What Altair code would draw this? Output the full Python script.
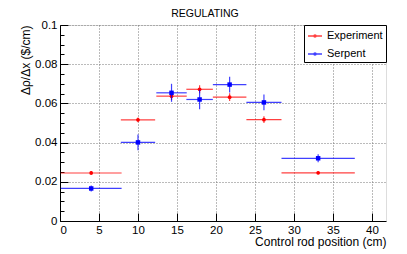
import altair as alt
import pandas as pd

# ---- data ----
series_names = ["Experiment", "Serpent"]
series_colors = ["#ff0000", "#0000ff"]

x_center = [4.0, 10.0, 14.3, 17.9, 21.75, 26.15, 33.1]
x_err = [3.9, 2.2, 1.95, 1.7, 2.15, 2.25, 4.7]

exp_y = [0.0245, 0.0516, 0.0637, 0.0672, 0.0632, 0.0517, 0.0246]
exp_err = [0.0010, 0.0012, 0.0020, 0.0020, 0.0020, 0.0017, 0.0008]

serp_y = [0.0166, 0.0401, 0.0654, 0.0620, 0.0696, 0.0605, 0.0320]
serp_err = [0.0015, 0.0040, 0.0046, 0.0050, 0.0040, 0.0040, 0.0020]

x_ticks = [0, 5, 10, 15, 20, 25, 30, 35, 40]
y_ticks = [0, 0.02, 0.04, 0.06, 0.08, 0.1]
y_minor = [0.005, 0.01, 0.015, 0.025, 0.03, 0.035, 0.045, 0.05, 0.055,
           0.065, 0.07, 0.075, 0.085, 0.09, 0.095]

rows = []
for name, ys, es in [("Experiment", exp_y, exp_err), ("Serpent", serp_y, serp_err)]:
    for xc, xe, yv, ye in zip(x_center, x_err, ys, es):
        rows.append({"series": name, "x": xc, "xlo": xc - xe, "xhi": xc + xe,
                     "y": yv, "ylo": yv - ye, "yhi": yv + ye})
df = pd.DataFrame(rows)

W, H = 326, 196
FONT = "Liberation Sans"

xs = alt.Scale(domain=[0, 41.8], nice=False, zero=False)
ys = alt.Scale(domain=[0, 0.1], nice=False, zero=False)
cscale = alt.Scale(domain=series_names, range=series_colors)

main_x_axis = alt.Axis(values=x_ticks, format="d", ticks=False, grid=True,
                       gridDash=[1, 2], gridColor="#777777", gridWidth=1,
                       domain=True, domainColor="black", labelFont=FONT,
                       labelFontSize=11.5, labelColor="black", labelPadding=3,
                       title="Control rod position (cm)", titleAnchor="end",
                       titleFont=FONT, titleFontSize=12, titleFontWeight="normal",
                       titleColor="black", titlePadding=1)
main_y_axis = alt.Axis(values=y_ticks, format="~g", ticks=False, grid=True,
                       gridDash=[1, 2], gridColor="#777777", gridWidth=1,
                       domain=True, domainColor="black", labelFont=FONT,
                       labelFontSize=11.5, labelColor="black", labelPadding=3,
                       title="Δρ/Δx ($/cm)", titleAnchor="end",
                       titleFont=FONT, titleFontSize=12, titleFontWeight="normal",
                       titleColor="black", titlePadding=2)
x_tick_axis = alt.Axis(orient="top", offset=-H, values=x_ticks, labels=False,
                       domain=False, grid=False, ticks=True, tickSize=8,
                       tickColor="black", title=None)
y_major_axis = alt.Axis(orient="right", offset=-W, values=y_ticks, labels=False,
                        domain=False, grid=False, ticks=True, tickSize=8,
                        tickColor="black", title=None)
y_minor_axis = alt.Axis(orient="right", offset=-W, values=y_minor, labels=False,
                        domain=False, grid=False, ticks=True, tickSize=4,
                        tickColor="black", title=None)

legend_def = alt.Legend(orient="top-right", offset=0, title=None,
                        strokeColor="black", fillColor="white", padding=3,
                        labelFont=FONT, labelFontSize=11, labelColor="black",
                        labelOffset=4, rowPadding=5,
                        symbolType="M-1,0H1M-0.15,0A0.15,0.15,0,1,1,0.15,0A0.15,0.15,0,1,1,-0.15,0Z",
                        symbolSize=196, symbolStrokeWidth=1.5)

base = alt.Chart(df)

hbars = base.mark_rule(strokeWidth=1.2, opacity=0.75).encode(
    x=alt.X("xlo:Q", scale=xs, axis=main_x_axis),
    x2="xhi:Q",
    y=alt.Y("y:Q", scale=ys, axis=main_y_axis),
    color=alt.Color("series:N", scale=cscale, legend=legend_def),
)

layers = [hbars]
for name, col, shape, size in [("Experiment", "#ff0000", "circle", 14),
                               ("Serpent", "#0000ff", "square", 20)]:
    sub = base.transform_filter(alt.datum.series == name)
    vb = sub.mark_rule(strokeWidth=1.2, opacity=0.75, color=col).encode(
        x=alt.X("x:Q", scale=xs, axis=x_tick_axis if name == "Experiment" else None),
        y=alt.Y("ylo:Q", scale=ys, axis=y_major_axis if name == "Experiment" else None),
        y2="yhi:Q",
    )
    pt = sub.mark_point(shape=shape, size=size, filled=True, opacity=1, color=col).encode(
        x=alt.X("x:Q", scale=xs, axis=None),
        y=alt.Y("y:Q", scale=ys, axis=y_minor_axis if name == "Experiment" else None),
    )
    layers += [vb, pt]

chart = alt.layer(*layers).resolve_axis(x="independent", y="independent").properties(
    width=W, height=H,
    autosize=alt.AutoSizeParams(type="none"),
    padding={"left": 52, "top": 17, "right": 13, "bottom": 30},
    title=alt.TitleParams("REGULATING", font=FONT, fontSize=10.5, fontWeight="normal",
                          color="black", anchor="middle", frame="group",
                          baseline="alphabetic", dx=-18, dy=13, offset=4.5),
).configure_view(stroke="black", strokeWidth=1).configure(background="white")

chart.save("out.html", embed_options={"renderer": "svg", "actions": False})
